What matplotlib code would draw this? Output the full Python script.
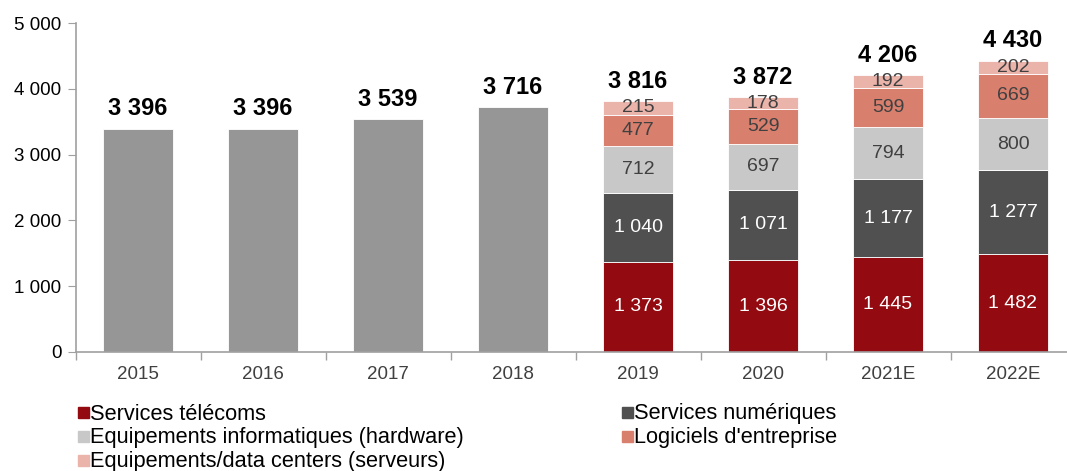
import numpy as np
import matplotlib.pyplot as plt
from matplotlib.patches import Rectangle
from matplotlib.ticker import FuncFormatter, FixedLocator

plt.rcParams['font.family'] = ['Liberation Sans', 'DejaVu Sans']

years = ['2015', '2016', '2017', '2018', '2019', '2020', '2021E', '2022E']
hist_years = ['2015', '2016', '2017', '2018']
hist_totals = [3396, 3396, 3539, 3716]

stack_years = ['2019', '2020', '2021E', '2022E']
telecom = [1373, 1396, 1445, 1482]
numeriques = [1040, 1071, 1177, 1277]
hardware = [712, 697, 794, 800]
logiciels = [477, 529, 599, 669]
serveurs = [215, 178, 192, 202]
stack_totals = [3816, 3872, 4206, 4430]

series = [
    ('Services télécoms', telecom, '#930A10', 'white'),
    ('Services numériques', numeriques, '#505050', 'white'),
    ('Equipements informatiques (hardware)', hardware, '#C8C8C8', '#404040'),
    ("Logiciels d'entreprise", logiciels, '#D87F6E', '#404040'),
    ('Equipements/data centers (serveurs)', serveurs, '#EBB4AB', '#404040'),
]

def fmt(v):
    return '{:,}'.format(int(v)).replace(',', ' ')

fig = plt.figure(figsize=(10.67, 4.71), dpi=100)
ax = fig.add_axes([75.5 / 1067, 119 / 471, 1000 / 1067, 329 / 471])

x = np.arange(len(years))
w = 0.56

# historical totals (grey)
xh = x[:len(hist_years)]
ax.bar(xh, hist_totals, width=w, color='#969696', edgecolor='white', linewidth=0.6)
for xi, v in zip(xh, hist_totals):
    ax.annotate(fmt(v), (xi, v), xytext=(0, 6), textcoords='offset points',
                ha='center', va='bottom', fontsize=17, fontweight='bold')

# stacked breakdown
xs = x[len(hist_years):]
bottom = np.zeros(len(stack_years))
for name, vals, col, tcol in series:
    vals = np.array(vals)
    ax.bar(xs, vals, width=w, bottom=bottom, color=col, edgecolor='white', linewidth=0.6)
    for xi, b, v in zip(xs, bottom, vals):
        ax.text(xi, b + v / 2, fmt(v), ha='center', va='center', fontsize=14, color=tcol)
    bottom += vals
for xi, b, v in zip(xs, bottom, stack_totals):
    ax.annotate(fmt(v), (xi, b), xytext=(0, 6), textcoords='offset points',
                ha='center', va='bottom', fontsize=17, fontweight='bold')

ax.set_xlim(-0.5, len(years) - 0.5)
ax.set_ylim(0, 5000)
ax.set_yticks(range(0, 5001, 1000))
ax.yaxis.set_major_formatter(FuncFormatter(lambda v, p: fmt(v)))
ax.set_xticks(x)
ax.set_xticklabels(years)
ax.xaxis.set_minor_locator(FixedLocator(np.arange(-0.5, len(years), 1.0)))
ax.tick_params(axis='x', which='major', length=0, labelsize=13.5, colors='#404040', pad=10)
ax.tick_params(axis='x', which='minor', length=6, color='#A0A0A0', width=1)
ax.tick_params(axis='y', length=6, color='#A0A0A0', labelsize=13.5, pad=4)
for lab in ax.get_yticklabels():
    lab.set_color('black')
for s in ['top', 'right']:
    ax.spines[s].set_visible(False)
for s in ['left', 'bottom']:
    ax.spines[s].set_color('#A0A0A0')
    ax.spines[s].set_linewidth(1.2)

# legend drawn by hand, two columns
leg_pos = [(78, 413), (622, 413), (78, 437), (622, 437), (78, 461)]
for (px, py), (name, vals, col, tcol) in zip(leg_pos, series):
    fig.patches.append(Rectangle((px / 1067, (471 - py - 5) / 471), 11 / 1067, 11 / 471,
                                 transform=fig.transFigure, color=col))
    fig.text((px + 12) / 1067, (471 - py - 1) / 471, name, fontsize=15.7,
             ha='left', va='center')

fig.savefig('out.png', dpi=100)
